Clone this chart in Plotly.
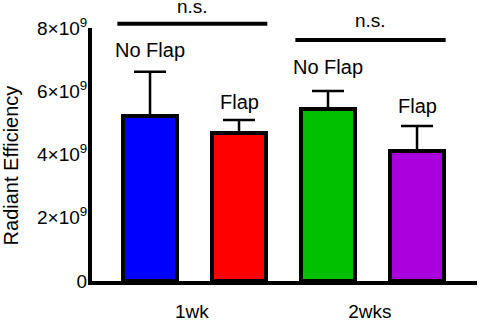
import plotly.graph_objects as go

# data
groups = ["1wk", "2wks"]
labels = ["No Flap", "Flap", "No Flap", "Flap"]
values = [5.23e9, 4.68e9, 5.45e9, 4.11e9]
err_top = [6.62e9, 5.09e9, 6.01e9, 4.90e9]
colors = ["#0000FF", "#FF0000", "#00C000", "#AA00DD"]
ytick_vals = [0, 2e9, 4e9, 6e9, 8e9]
ytick_mant = ["0", "2", "4", "6", "8"]
sig_text = ["n.s.", "n.s."]

FONT = "Liberation Sans, Arial, sans-serif"
xpos = list(range(len(values)))
err_plus = [t - v for t, v in zip(err_top, values)]
ytick_text = [m if m == "0" else m + "×10<sup>9</sup>" for m in ytick_mant]

fig = go.Figure()
fig.add_trace(go.Bar(
    x=xpos, y=values, width=0.607,
    marker=dict(color=colors, line=dict(color="black", width=4)),
    error_y=dict(type="data", array=err_plus, arrayminus=[0] * len(values),
                 symmetric=False, color="black", thickness=2.5, width=16),
    showlegend=False, hoverinfo="skip",
))

# bar labels
label_shift = [22, 18, 24, 20]
for xi, t, lab, s in zip(xpos, err_top, labels, label_shift):
    fig.add_annotation(x=xi, y=t, xref="x", yref="y", text=lab, showarrow=False,
                       yanchor="middle", yshift=s,
                       font=dict(family=FONT, size=20, color="black"))

# significance brackets
sig_spans = [(-0.367, 1.318, 1.017, 1.085), (1.633, 3.322, 0.9526, 1.031)]
for (x0, x1, yl, yt), txt in zip(sig_spans, sig_text):
    fig.add_shape(type="line", xref="x", yref="paper", x0=x0, x1=x1, y0=yl, y1=yl,
                  line=dict(color="black", width=4))
    fig.add_annotation(x=(x0 + x1) / 2, y=yt, xref="x", yref="paper", text=txt,
                       showarrow=False, yanchor="middle",
                       font=dict(family=FONT, size=19, color="black"))

# y axis title as annotation
fig.add_annotation(x=-0.211, y=0.456, xref="paper", yref="paper",
                   text="Radiant Efficiency", textangle=-90, showarrow=False,
                   xanchor="center", yanchor="middle",
                   font=dict(family=FONT, size=20, color="black"))

fig.update_layout(
    width=479, height=320,
    margin=dict(l=92, r=2, t=28, b=39, autoexpand=False),
    plot_bgcolor="white", paper_bgcolor="white",
    font=dict(family=FONT, color="black"),
    bargap=0,
)
fig.update_xaxes(range=[-0.652, 3.674], tickvals=[0.47, 2.47], ticktext=groups,
                 showline=True, linecolor="black", linewidth=4, showgrid=False,
                 zeroline=False, ticks="", tickfont=dict(size=19, family=FONT),
                 ticklabelstandoff=10, automargin=False)
fig.update_yaxes(range=[0, 8e9], tickvals=ytick_vals, ticktext=ytick_text,
                 showline=True, linecolor="black", linewidth=4, showgrid=False,
                 zeroline=False, ticks="", tickfont=dict(size=19, family=FONT),
                 ticklabelstandoff=-3, automargin=False)

fig.write_html("out.html", config={"displayModeBar": False},
               post_script="document.body.style.margin='0';")
